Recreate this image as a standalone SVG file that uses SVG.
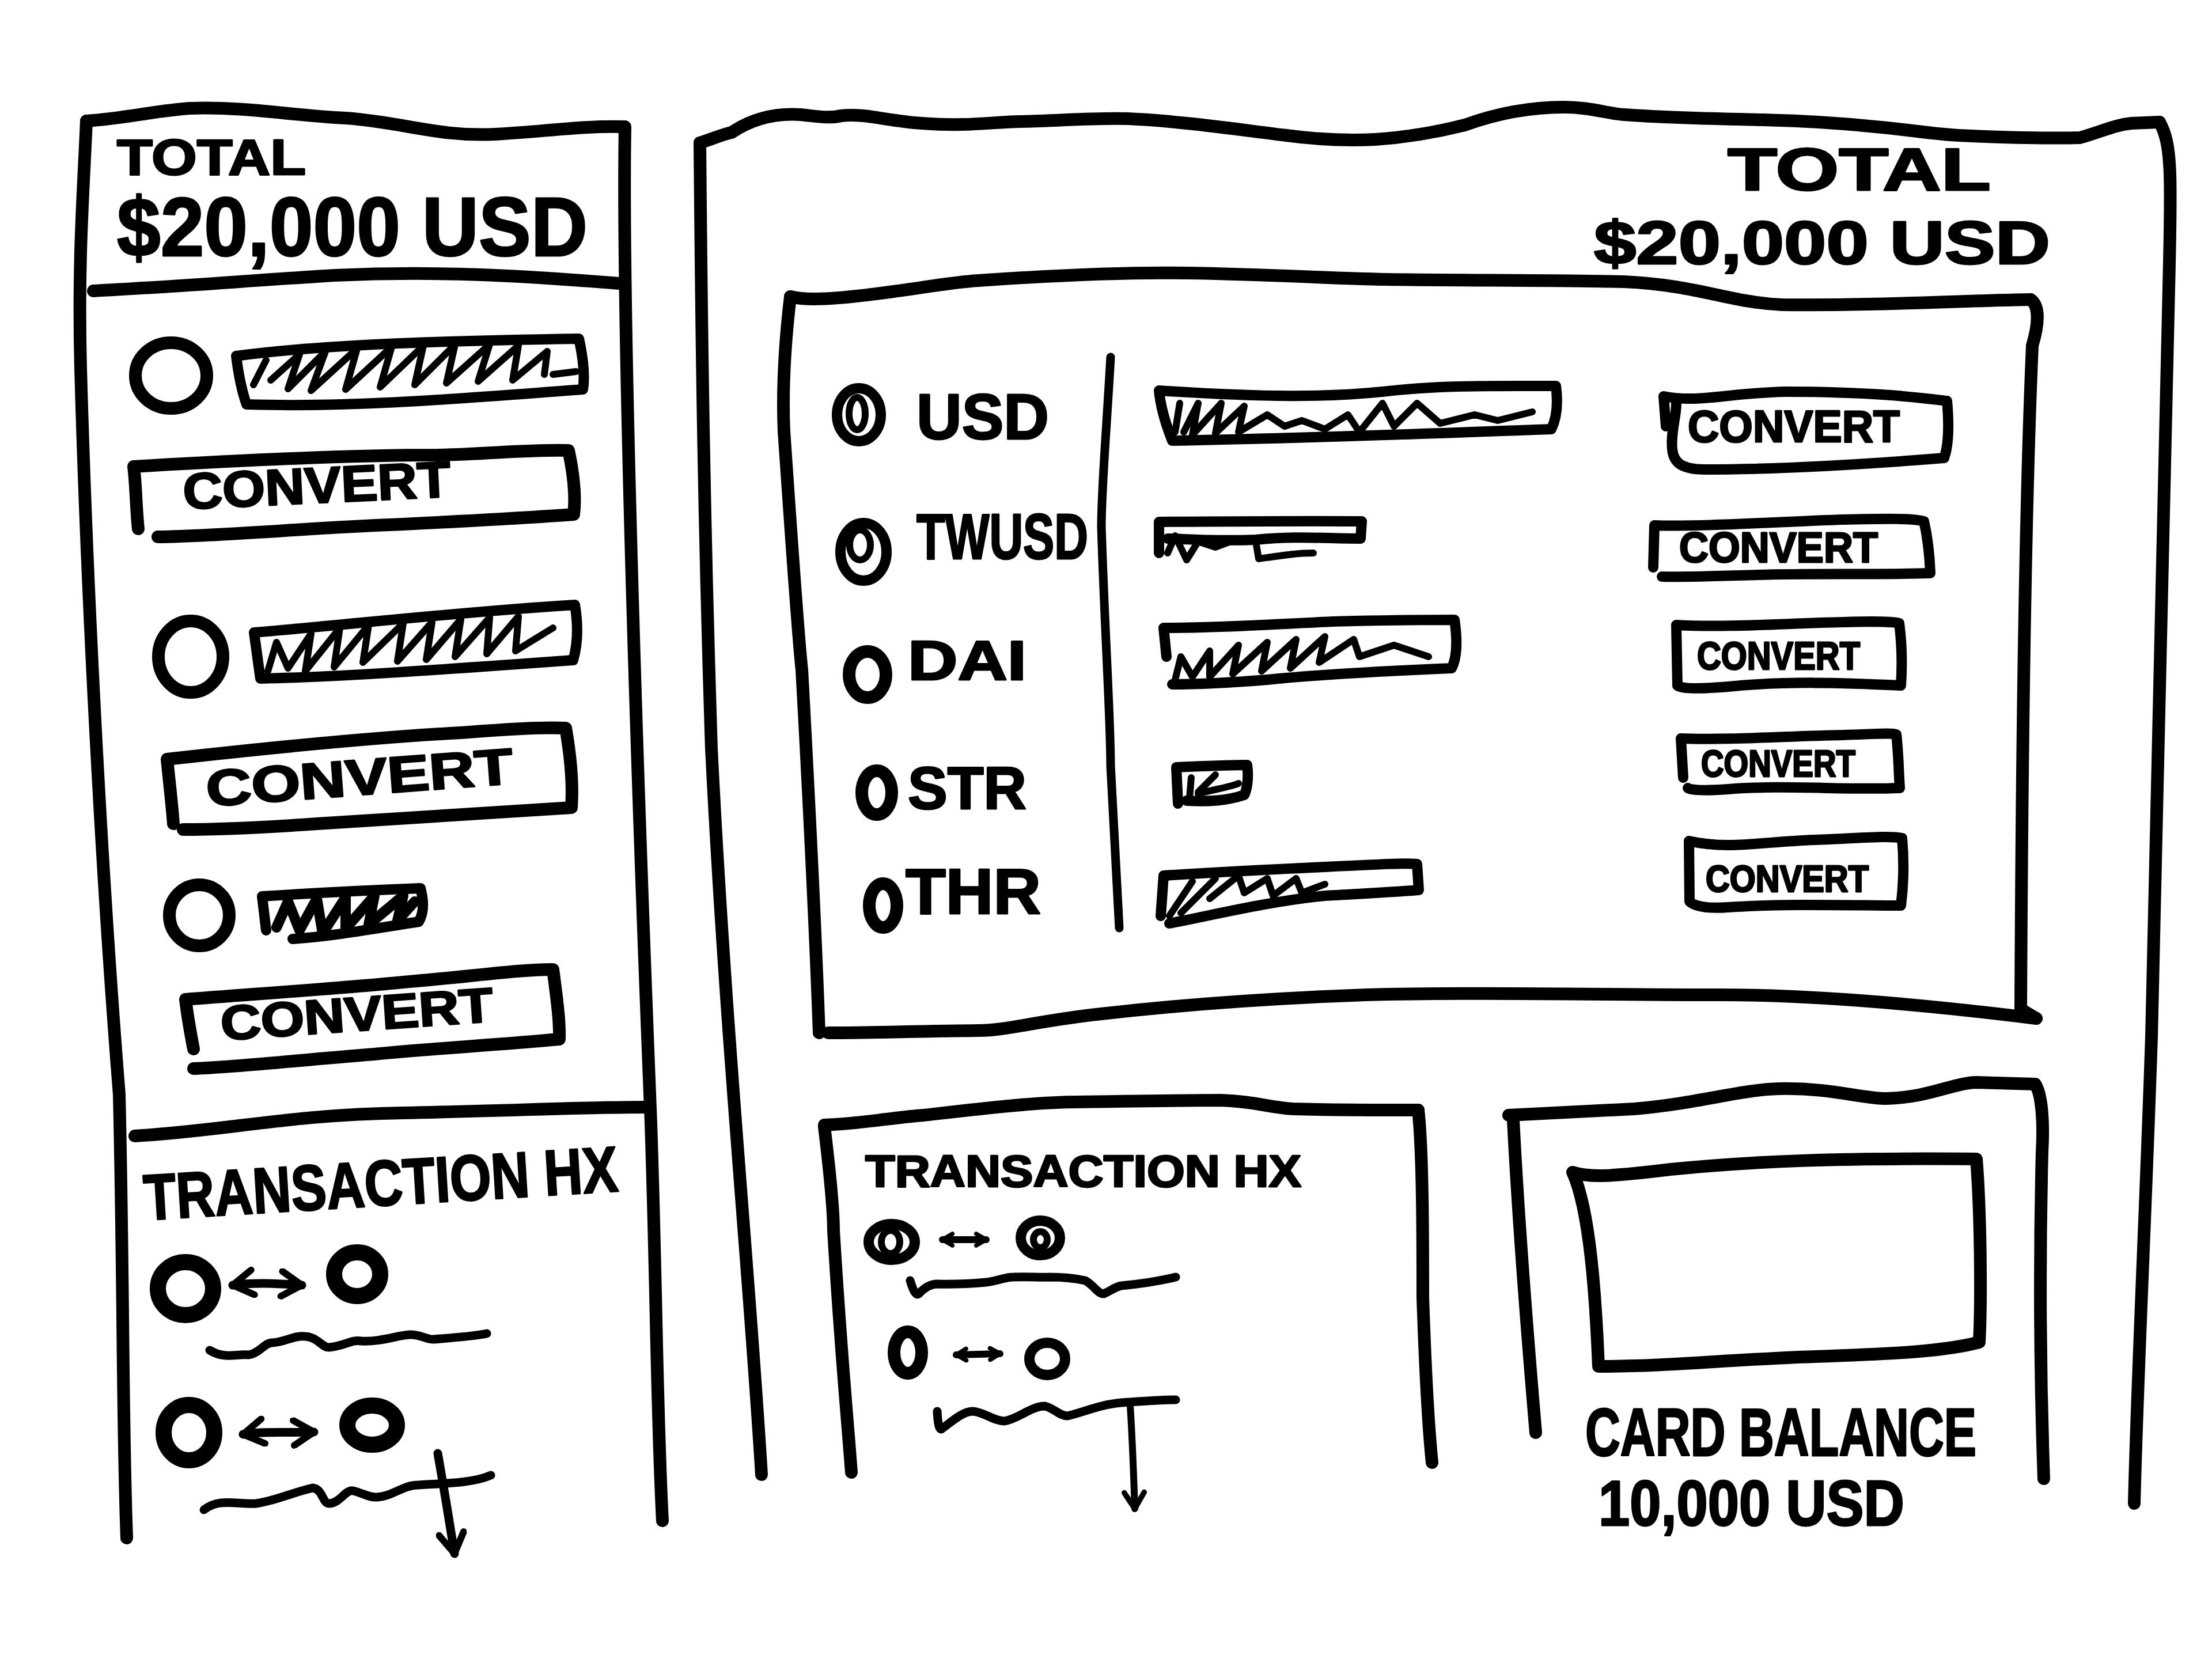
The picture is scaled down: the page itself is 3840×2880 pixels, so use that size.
<svg xmlns="http://www.w3.org/2000/svg" width="3840" height="2880" viewBox="0 0 3840 2880">
<defs>
<style>
.s{fill:none;stroke:#000;stroke-linecap:round;stroke-linejoin:round}
.w22{stroke-width:22}.w18{stroke-width:18}.w15{stroke-width:15}.w12{stroke-width:12}.w28{stroke-width:28}
.t{font-family:"Liberation Sans","DejaVu Sans",Arial,sans-serif;font-weight:bold;fill:#000;stroke:#000;stroke-width:3;stroke-linejoin:round}
</style>
<marker id="ah" viewBox="0 0 10 10" refX="8" refY="5" markerWidth="3.6" markerHeight="3.6" orient="auto-start-reverse" markerUnits="strokeWidth">
<path d="M1.5,1 L8,5 L1.5,9" fill="none" stroke="#000" stroke-width="2.2" stroke-linecap="round" stroke-linejoin="round"/>
</marker>
<marker id="ahs" viewBox="0 0 10 10" refX="8" refY="5" markerWidth="2.4" markerHeight="2.4" orient="auto-start-reverse" markerUnits="strokeWidth">
<path d="M2,1.5 L8,5 L2,8.5" fill="none" stroke="#000" stroke-width="2.6" stroke-linecap="round" stroke-linejoin="round"/>
</marker>
</defs>
<rect width="3840" height="2880" fill="#fff"/>

<g id="left-panel">
<path class="s w22" d="M150,210 C220,205 270,192 330,188 C430,185 500,200 600,205 C700,212 760,238 860,233 C950,228 1010,218 1085,220"/>
<path class="s w22" d="M1085,222 C1080,500 1100,1200 1130,1950 C1140,2250 1140,2450 1150,2640"/>
<path class="s w22" d="M150,210 C145,330 135,450 140,640 C150,1000 175,1500 207,1900 C215,2250 212,2450 220,2670"/>
<path class="s w22" d="M162,505 C300,498 420,488 580,478 C760,470 900,478 1075,492"/>
<text class="t" x="203" y="303" font-size="88" textLength="328" lengthAdjust="spacingAndGlyphs">TOTAL</text>
<text class="t" x="203" y="444" font-size="145" textLength="817" lengthAdjust="spacingAndGlyphs">$20,000 USD</text>
</g>

<g id="left-asset-1">
<ellipse class="s w22" cx="297" cy="652" rx="62" ry="57"/>
<path class="s w18" d="M410,618 C560,598 760,592 1005,588 C1012,620 1016,650 1012,676 C820,690 620,708 428,702 C420,680 414,650 410,618 Z"/>
<path class="s w12" d="M440,668 L462,625 M470,660 L520,615 L500,675 L565,610 L540,678 L620,605 L600,676 L680,602 L660,672 L735,600 L720,668 L790,598 L775,665 L850,598 L830,662 L900,600 L890,660 L950,610 L945,650 M960,650 L1000,645"/>
<path class="s w22" d="M232,810 C400,800 600,790 760,790 C850,788 920,780 987,782 C995,820 1000,860 996,893 C900,900 800,905 700,910 C550,915 400,930 274,932 M240,918 C236,880 236,840 232,810"/>
<text class="t" x="319" y="884" font-size="88" textLength="465" lengthAdjust="spacingAndGlyphs" transform="rotate(-2.7 319 884)">CONVERT</text>
</g>

<g id="left-asset-2">
<ellipse class="s w22" cx="331" cy="1140" rx="56" ry="62"/>
<path class="s w18" d="M441,1098 C600,1085 800,1062 998,1050 C1003,1080 1004,1115 995,1146 C800,1160 600,1175 452,1178 C448,1150 444,1120 441,1098 Z"/>
<path class="s w12" d="M465,1165 L480,1115 L500,1160 L540,1100 L530,1165 L590,1090 L580,1158 L640,1085 L630,1150 L700,1082 L690,1148 L750,1080 L740,1145 L800,1075 L790,1140 L850,1072 L845,1135 L900,1070 L895,1130 L960,1090"/>
<path class="s w22" d="M290,1318 C450,1300 650,1280 800,1272 C880,1266 940,1262 982,1264 C990,1310 995,1360 992,1402 C850,1410 700,1420 550,1430 C450,1437 380,1440 318,1440 M301,1430 C298,1390 293,1350 290,1318"/>
<text class="t" x="360" y="1400" font-size="88" textLength="534" lengthAdjust="spacingAndGlyphs" transform="rotate(-4.3 360 1400)">CONVERT</text>
</g>

<g id="left-asset-3">
<ellipse class="s w22" cx="346" cy="1589" rx="52" ry="53"/>
<path class="s w18" d="M455,1556 C550,1550 650,1545 730,1542 C736,1565 736,1585 727,1600 C650,1612 580,1625 508,1630 M455,1556 L462,1615"/>
<path class="s w18" d="M480,1610 L500,1565 L520,1615 L550,1560 L560,1620 L600,1558 L600,1612 L650,1555 L640,1605 L700,1555 L690,1598 L720,1565"/>
<path class="s w22" d="M322,1735 C450,1725 600,1715 700,1705 C820,1695 900,1683 960,1683 C966,1730 972,1770 971,1804 C850,1815 750,1820 650,1830 C520,1840 420,1852 336,1855 M336,1821 C330,1790 325,1760 322,1735"/>
<text class="t" x="385" y="1806" font-size="84" textLength="474" lengthAdjust="spacingAndGlyphs" transform="rotate(-4 385 1806)">CONVERT</text>
</g>

<g id="left-transactions">
<path class="s w22" d="M234,1972 C400,1962 500,1935 700,1932 C900,1928 1000,1922 1125,1922"/>
<text class="t" x="252" y="2118" font-size="112" textLength="824" lengthAdjust="spacingAndGlyphs" transform="rotate(-3.5 252 2118)">TRANSACTION HX</text>
<ellipse class="s w28" cx="322" cy="2237" rx="48" ry="46"/>
<ellipse class="s w28" cx="620" cy="2212" rx="40" ry="38"/>
<path class="s w15" d="M364,2344 C390,2360 410,2350 431,2352 C450,2350 460,2330 473,2331 C495,2330 510,2318 529,2320 C550,2320 560,2340 571,2339 C600,2336 610,2325 627,2328 C660,2330 690,2318 711,2317 C730,2316 740,2326 753,2325 C790,2322 820,2320 845,2315"/>
<ellipse class="s w28" cx="328" cy="2487" rx="44" ry="48"/>
<ellipse class="s w28" cx="646" cy="2474" rx="43" ry="34"/>
<path class="s w15" d="M354,2621 C380,2600 410,2612 445,2610 C480,2605 510,2590 543,2583 C560,2585 560,2610 571,2610 C590,2610 600,2585 613,2588 C630,2592 640,2600 655,2599 C680,2598 700,2578 725,2578 C770,2575 820,2575 852,2561"/>
</g>

<g id="main-panel">
<path class="s w22" d="M1215,248 C1240,240 1255,233 1270,230 C1300,210 1340,196 1389,199 C1420,202 1440,206 1460,201 C1500,196 1540,210 1600,214 C1680,220 1720,212 1770,211 C1830,210 1900,204 1958,206 C2050,210 2150,225 2233,235 C2300,244 2350,244 2388,242 C2450,238 2500,228 2543,217 C2590,200 2650,186 2715,186 C2760,186 2790,197 2819,199 C2900,205 2980,206 3060,208 C3150,210 3220,216 3266,221 C3320,226 3350,232 3400,235 C3500,240 3580,240 3611,239 C3650,228 3670,217 3700,214 L3749,212"/>
<path class="s w22" d="M3749,212 C3770,250 3770,300 3765,500 C3755,900 3745,1400 3735,1800 C3725,2100 3710,2400 3705,2610"/>
<path class="s w22" d="M1215,248 C1218,600 1222,900 1235,1300 C1260,1800 1300,2200 1322,2560"/>
<text class="t" x="2999" y="330" font-size="104" textLength="457" lengthAdjust="spacingAndGlyphs">TOTAL</text>
<text class="t" x="2767" y="458" font-size="106" textLength="792" lengthAdjust="spacingAndGlyphs">$20,000 USD</text>
</g>

<g id="asset-table">
<path class="s w22" d="M1372,515 C1400,522 1450,520 1544,507 C1600,500 1650,490 1699,487 C1800,480 1950,472 2061,474 C2200,476 2300,483 2405,485 C2550,487 2700,486 2819,489 C2950,495 3000,525 3094,529 C3250,531 3400,522 3525,520"/>
<path class="s w22" d="M3525,520 C3540,530 3540,560 3528,600 C3515,900 3510,1300 3508,1752 L3535,1768"/>
<path class="s w22" d="M3535,1768 C3350,1745 3150,1727 2984,1727 C2800,1727 2550,1722 2372,1727 C2150,1735 2000,1750 1912,1760 C1800,1772 1750,1789 1698,1789 C1600,1790 1500,1793 1438,1793"/>
<path class="s w22" d="M1372,515 C1362,600 1358,680 1361,749 C1375,950 1385,1100 1392,1163 C1405,1400 1415,1600 1422,1793"/>
<path class="s w15" d="M1928,620 C1920,760 1912,850 1912,915 C1918,1100 1928,1250 1928,1329 C1935,1450 1940,1550 1943,1611"/>
</g>

<g id="row-usd">
<ellipse class="s w18" cx="1491" cy="720" rx="38" ry="46"/>
<ellipse class="s w12" cx="1488" cy="718" rx="14" ry="28"/>
<text class="t" x="1591" y="762" font-size="112" textLength="230" lengthAdjust="spacingAndGlyphs">USD</text>
<path class="s w18" d="M2012,678 C2200,690 2300,690 2400,680 C2500,668 2600,670 2701,670 C2705,700 2703,725 2693,745 C2500,752 2300,760 2035,765 C2025,740 2015,710 2012,678 Z"/>
<path class="s w12" d="M2040,750 L2048,700 M2055,750 L2080,700 L2070,755 L2120,700 L2110,752 L2160,705 L2150,750 L2200,720 L2230,740 L2260,730 L2300,745 L2340,720 L2360,750 L2400,700 L2420,740 L2460,700 L2500,735 L2560,720 L2600,730 L2660,715"/>
<path class="s w18" d="M2888,688 C2950,700 3000,682 3100,680 C3250,680 3330,690 3380,696 C3384,740 3382,775 3375,795 C3250,805 3100,815 2960,815 C2915,815 2905,800 2903,780 C2900,750 2910,725 2910,700 M2888,688 L2892,740"/>
<text class="t" x="2930" y="767" font-size="78" textLength="368" lengthAdjust="spacingAndGlyphs">CONVERT</text>
</g>

<g id="row-twusd">
<ellipse class="s w18" cx="1499" cy="958" rx="40" ry="50"/>
<ellipse class="s w12" cx="1493" cy="946" rx="18" ry="26"/>
<text class="t" x="1591" y="970" font-size="112" textLength="298" lengthAdjust="spacingAndGlyphs">TWUSD</text>
<path class="s w18" d="M2012,906 C2150,905 2250,904 2364,905 L2362,935 C2300,935 2250,930 2180,937 C2100,940 2050,935 2027,935 M2012,906 L2012,960"/>
<path class="s w12" d="M2027,960 L2040,930 L2060,972 L2080,940 L2110,950 L2150,935 M2180,940 L2185,970 C2220,965 2250,960 2280,960"/>
<path class="s w18" d="M2872,912 C2950,915 3100,905 3200,902 C3280,900 3320,900 3340,905 C3348,940 3350,970 3351,995 C3250,998 3150,995 3050,998 C2980,1000 2920,1002 2885,1001 M2872,912 L2870,985"/>
<text class="t" x="2915" y="976" font-size="74" textLength="345" lengthAdjust="spacingAndGlyphs">CONVERT</text>
</g>

<g id="row-dai">
<ellipse class="s w22" cx="1506" cy="1171" rx="32" ry="40"/>
<text class="t" x="1576" y="1180" font-size="96" textLength="206" lengthAdjust="spacingAndGlyphs">DAI</text>
<path class="s w18" d="M2020,1090 C2150,1090 2250,1080 2350,1078 C2450,1076 2500,1076 2525,1076 C2530,1110 2530,1140 2520,1160 C2400,1165 2300,1170 2200,1180 C2100,1188 2060,1188 2035,1188 M2020,1090 L2025,1140"/>
<path class="s w12" d="M2040,1180 L2050,1140 L2070,1175 L2100,1130 L2100,1175 L2150,1120 L2140,1170 L2200,1115 L2190,1165 L2250,1110 L2240,1160 L2300,1105 L2290,1150 L2350,1110 L2360,1140 L2420,1120 L2480,1140"/>
<path class="s w18" d="M2910,1085 C3000,1090 3100,1082 3200,1080 C3260,1078 3290,1080 3297,1082 C3302,1120 3302,1160 3300,1190 C3200,1185 3100,1182 3000,1192 C2950,1196 2920,1196 2912,1190 L2910,1085"/>
<text class="t" x="2946" y="1162" font-size="68" textLength="283" lengthAdjust="spacingAndGlyphs">CONVERT</text>
</g>

<g id="row-str">
<ellipse class="s w22" cx="1522" cy="1376" rx="26" ry="38"/>
<text class="t" x="1576" y="1404" font-size="104" textLength="206" lengthAdjust="spacingAndGlyphs">STR</text>
<path class="s w18" d="M2042,1332 C2090,1330 2130,1328 2165,1328 C2168,1350 2165,1370 2160,1380 C2130,1390 2100,1392 2060,1390 M2042,1332 L2045,1395"/>
<path class="s w12" d="M2065,1385 L2068,1350 M2080,1375 L2110,1345 M2080,1378 C2110,1370 2140,1365 2150,1360"/>
<path class="s w18" d="M2918,1282 C3000,1285 3100,1278 3200,1276 C3260,1274 3285,1272 3292,1275 C3296,1310 3296,1340 3298,1368 C3200,1372 3100,1362 3000,1370 C2960,1373 2935,1372 2930,1368 M2918,1282 L2922,1350"/>
<text class="t" x="2953" y="1348" font-size="64" textLength="268" lengthAdjust="spacingAndGlyphs">CONVERT</text>
</g>

<g id="row-thr">
<ellipse class="s w22" cx="1533" cy="1572" rx="24" ry="38"/>
<text class="t" x="1572" y="1586" font-size="112" textLength="235" lengthAdjust="spacingAndGlyphs">THR</text>
<path class="s w18" d="M2020,1520 C2100,1515 2150,1512 2300,1505 C2400,1500 2440,1498 2460,1500 L2463,1545 C2400,1550 2350,1552 2300,1555 C2200,1565 2100,1590 2030,1603 M2020,1520 L2015,1590"/>
<path class="s w12" d="M2030,1590 L2070,1530 M2050,1585 L2110,1525 M2100,1560 L2150,1520 L2160,1550 L2200,1525 L2210,1555 L2250,1525 L2260,1550 L2300,1535"/>
<path class="s w18" d="M2932,1460 C3000,1475 3050,1462 3150,1458 C3230,1455 3280,1450 3302,1455 C3306,1500 3304,1540 3300,1572 C3220,1572 3100,1568 3000,1575 C2960,1578 2940,1572 2933,1565 L2932,1460"/>
<text class="t" x="2961" y="1548" font-size="64" textLength="283" lengthAdjust="spacingAndGlyphs">CONVERT</text>
</g>

<g id="transaction-panel">
<path class="s w22" d="M1431,1953 C1500,1950 1550,1940 1603,1936 C1700,1925 1800,1913 1869,1913 C1950,1912 2050,1910 2119,1910 C2180,1912 2200,1922 2244,1925 C2350,1928 2420,1927 2462,1927"/>
<path class="s w22" d="M2462,1927 C2470,2000 2470,2150 2470,2252 C2475,2400 2480,2480 2486,2539"/>
<path class="s w22" d="M1431,1956 C1440,2030 1447,2100 1447,2137 C1460,2350 1470,2450 1478,2556"/>
<text class="t" x="1502" y="2060" font-size="78" textLength="757" lengthAdjust="spacingAndGlyphs">TRANSACTION HX</text>
<ellipse class="s w18" cx="1548" cy="2156" rx="40" ry="31"/>
<ellipse class="s w12" cx="1546" cy="2156" rx="16" ry="20"/>
<ellipse class="s w18" cx="1806" cy="2149" rx="34" ry="30"/>
<ellipse class="s w12" cx="1806" cy="2152" rx="12" ry="14"/>
<path class="s w15" d="M1580,2223 C1585,2240 1590,2250 1595,2246 C1605,2235 1615,2229 1627,2229 C1660,2230 1690,2228 1712,2226 C1730,2224 1745,2217 1759,2217 C1790,2216 1805,2218 1822,2217 C1850,2217 1870,2220 1884,2223 C1900,2232 1905,2246 1916,2246 C1930,2240 1935,2234 1947,2232 C1990,2228 2020,2222 2041,2217"/>
<ellipse class="s w22" cx="1576" cy="2348" rx="24" ry="36"/>
<ellipse class="s w18" cx="1818" cy="2359" rx="31" ry="28"/>
<path class="s w15" d="M1627,2450 C1628,2470 1630,2481 1634,2481 C1650,2470 1670,2450 1689,2450 C1710,2452 1725,2467 1744,2467 C1770,2462 1790,2441 1814,2441 C1830,2445 1840,2458 1853,2458 C1880,2452 1910,2438 1947,2435 C1990,2432 2020,2430 2041,2430"/>
</g>

<g id="card-panel">
<path class="s w22" d="M2619,1936 C2700,1932 2780,1928 2837,1925 C2950,1915 3020,1892 3087,1890 C3180,1888 3230,1907 3275,1907 C3350,1905 3390,1880 3431,1879 L3533,1882"/>
<path class="s w22" d="M3533,1882 C3545,1900 3548,1950 3545,2000 C3540,2200 3542,2400 3548,2567"/>
<path class="s w22" d="M2627,1945 C2635,2100 2650,2300 2666,2487"/>
<path class="s w22" d="M2730,2035 C2760,2045 2800,2042 2900,2030 C3050,2015 3200,2010 3431,2012 C3438,2100 3440,2250 3436,2330 C3380,2345 3300,2350 3150,2355 C3000,2360 2900,2372 2775,2372 C2770,2250 2760,2100 2730,2035 Z"/>
<text class="t" x="2752" y="2527" font-size="116" textLength="679" lengthAdjust="spacingAndGlyphs">CARD BALANCE</text>
<text class="t" x="2775" y="2648" font-size="112" textLength="531" lengthAdjust="spacingAndGlyphs">10,000 USD</text>
</g>

<g id="connectors">
<path class="s w15" marker-start="url(#ah)" marker-end="url(#ah)" d="M404,2231 C440,2226 480,2228 524,2231"/>
<path class="s w15" marker-start="url(#ah)" marker-end="url(#ah)" d="M422,2490 C460,2484 500,2488 545,2486"/>
<path class="s w15" marker-end="url(#ah)" d="M760,2523 C770,2580 780,2640 789,2697"/>
<path class="s w12" marker-start="url(#ahs)" marker-end="url(#ahs)" d="M1636,2152 L1712,2152"/>
<path class="s w12" marker-start="url(#ahs)" marker-end="url(#ahs)" d="M1660,2352 L1736,2350"/>
<path class="s w12" marker-end="url(#ah)" d="M1962,2441 C1966,2500 1968,2560 1970,2619"/>
</g>
</svg>
